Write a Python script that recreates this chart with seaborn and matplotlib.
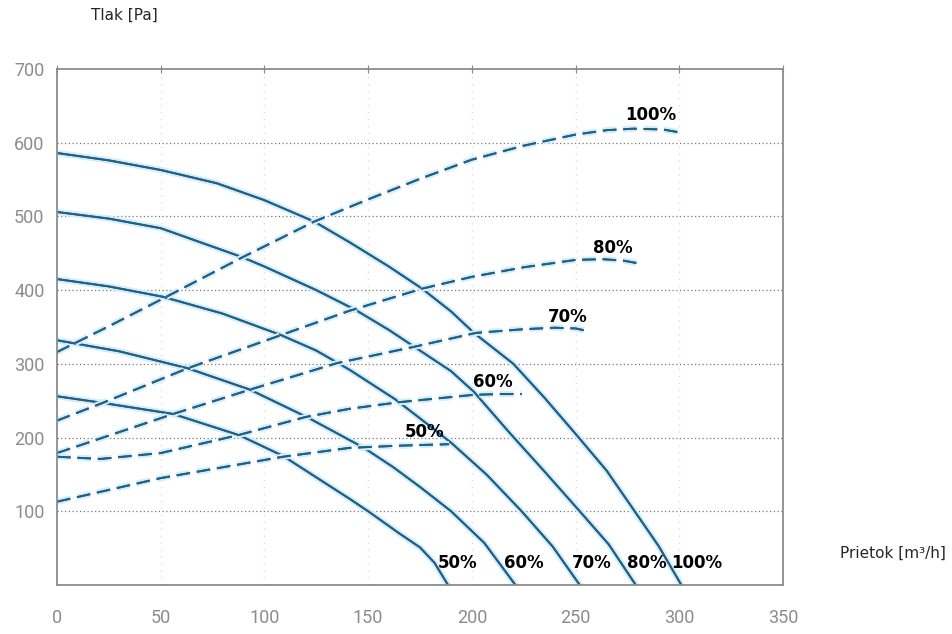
import numpy as np
import pandas as pd
import seaborn as sns
import matplotlib.pyplot as plt
import matplotlib.patheffects as pe

# fan curves (solid) - flow [m3/h] vs pressure [Pa]
fan_100_x = [0, 25, 50, 77, 100, 124, 141, 160, 176, 190, 201, 220, 235, 250, 265, 278, 290, 301]
fan_100_y = [586, 576, 563, 545, 522, 493, 465, 432, 402, 371, 342, 300, 254, 205, 155, 102, 53, 0]
fan_80_x = [0, 25, 50, 89, 100, 125, 144, 160, 175, 190, 201, 218, 235, 252, 266, 279]
fan_80_y = [506, 497, 484, 445, 432, 400, 373, 346, 318, 290, 262, 207, 154, 100, 55, 0]
fan_70_x = [0, 25, 51, 80, 108, 125, 141, 163, 175, 190, 207, 224, 239, 252]
fan_70_y = [415, 405, 391, 368, 339, 318, 292, 252, 226, 193, 150, 100, 52, 0]
fan_60_x = [0, 30, 63, 93, 121, 148, 162, 175, 190, 206, 221]
fan_60_y = [332, 317, 294, 265, 227, 186, 160, 133, 100, 57, 0]
fan_50_x = [0, 22, 56, 88, 109, 125, 141, 150, 165, 175, 182, 188.5]
fan_50_y = [256, 247, 232, 203, 175, 146, 117, 100, 70, 51, 30, 0]

# power curves (dashed)
pw_100_x = [0, 25, 50, 89, 124, 149, 175, 200, 225, 250, 265, 278, 292, 302]
pw_100_y = [316, 351, 387, 444, 493, 522, 551, 577, 596, 611, 617, 619, 618, 613]
pw_80_x = [0, 22, 63, 108, 141, 176, 200, 225, 250, 263, 273, 281]
pw_80_y = [223, 247, 294, 339, 372, 402, 418, 431, 441, 442, 440, 436]
pw_70_x = [0, 56, 93, 135, 172, 202, 225, 240, 250, 255]
pw_70_y = [179, 232, 265, 301, 323, 342, 347, 349, 348, 345]
pw_60_x = [0, 21, 50, 87, 120, 141, 165, 201, 213, 224]
pw_60_y = [174, 171, 179, 203, 228, 239, 248, 258, 259, 259]
pw_50_x = [0, 50, 109, 141, 165, 189]
pw_50_y = [113, 145, 174, 186, 189, 191]

labels = ['100%', '80%', '70%', '60%', '50%']
fan_label_x = [308.6, 284.5, 258, 225, 193]
pw_label_pos = [(286, 638), (268, 457), (246, 364), (210, 276), (177, 208)]

fans = [(fan_100_x, fan_100_y), (fan_80_x, fan_80_y), (fan_70_x, fan_70_y),
        (fan_60_x, fan_60_y), (fan_50_x, fan_50_y)]
pws = [(pw_100_x, pw_100_y), (pw_80_x, pw_80_y), (pw_70_x, pw_70_y),
       (pw_60_x, pw_60_y), (pw_50_x, pw_50_y)]

sns.set_style('white')
plt.rcParams['font.family'] = ['DejaVu Sans']

fig = plt.figure(figsize=(9.52, 6.34), dpi=100)
ax = fig.add_axes([0.0599, 0.0773, 0.7626, 0.8139])

line_col = '#225e85'
glow = [pe.withStroke(linewidth=4.5, foreground='#d3eef9'), pe.Normal()]

for (x, y) in fans:
    sns.lineplot(x=x, y=y, ax=ax, color=line_col, linewidth=1.4,
                 sort=False, path_effects=glow)
for (x, y) in pws:
    l = sns.lineplot(x=x, y=y, ax=ax, color=line_col, linewidth=1.4,
                     sort=False, path_effects=glow)
    l.lines[-1].set_dashes([7, 3.5])

for lab, lx in zip(labels, fan_label_x):
    ax.text(lx, 30, lab, ha='center', va='center', fontsize=12,
            fontweight='bold', color='black')
for lab, (px, py) in zip(labels, pw_label_pos):
    ax.text(px, py, lab, ha='center', va='center', fontsize=12,
            fontweight='bold', color='black')

ax.set_xlim(0, 350)
ax.set_ylim(0, 700)
ax.set_xticks(np.arange(0, 351, 50))
ax.set_yticks(np.arange(100, 701, 100))
ax.tick_params(axis='both', direction='inout', length=6, color='#888888',
               labelcolor='#8c8c8c', labelsize=13, top=True, right=False)
ax.tick_params(axis='x', pad=14)
ax.tick_params(axis='y', pad=6)
for lbl in ax.get_xticklabels() + ax.get_yticklabels():
    lbl.set_family('Roboto')

for s in ax.spines.values():
    s.set_color('#8c8c8c')
    s.set_linewidth(1.3)

for yv in range(100, 700, 100):
    ax.axhline(yv, color='#777777', linestyle=(0, (1, 2)), linewidth=0.9, zorder=0)
for xv in range(50, 350, 50):
    ax.axvline(xv, color='#dddddd', linestyle=(0, (1, 4)), linewidth=1.0, zorder=0)

ax.set_xlabel('')
ax.set_ylabel('')
fig.text(124 / 952, 1 - 15 / 634, 'Tlak [Pa]', ha='center', va='center', fontsize=11)
fig.text(893 / 952, 1 - 553 / 634, 'Prietok [m\u00b3/h]', ha='center', va='center', fontsize=11)

fig.savefig('out.png', dpi=100)
